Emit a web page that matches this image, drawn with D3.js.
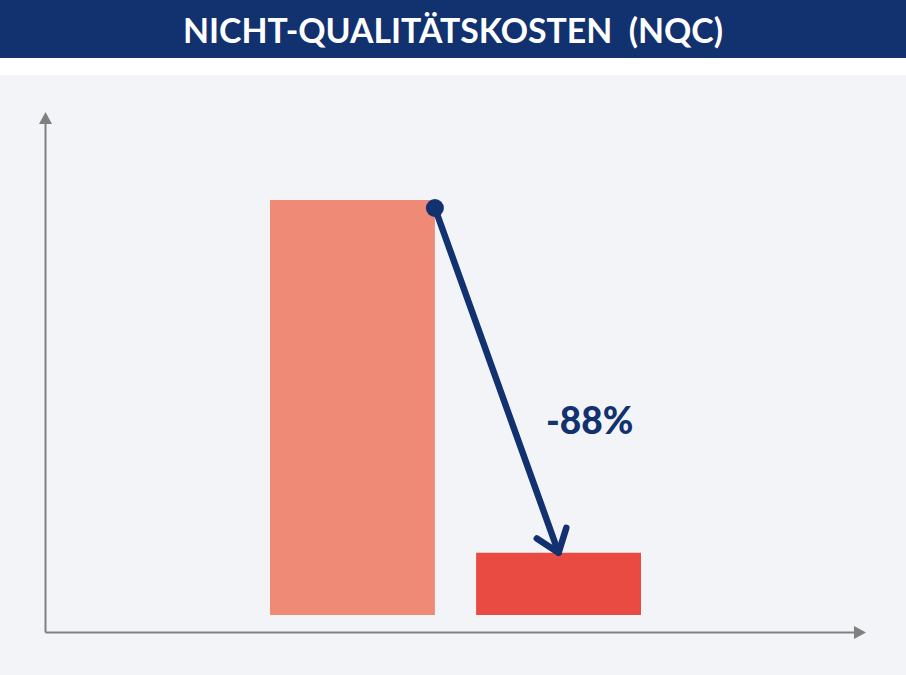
<!DOCTYPE html>
<html>
<head>
<meta charset="utf-8">
<script src="https://cdn.jsdelivr.net/npm/d3@7"></script>
<style>
  body { margin: 0; background: #ffffff; }
  svg { display: block; }
</style>
</head>
<body>
<div id="chart"></div>
<script>
const title = "NICHT-QUALITÄTSKOSTEN\u00a0\u00a0(NQC)";
const categories = ["Vorher", "Nachher"];
const values = [100, 15];
const changeLabel = "-88%";

const W = 906, H = 675;

const svg = d3.select("#chart")
    .append("svg")
    .attr("width", W)
    .attr("height", H);

// title bar
svg.append("rect")
    .attr("x", 0).attr("y", 0)
    .attr("width", W).attr("height", 58)
    .attr("fill", "#12316f");

svg.append("text")
    .attr("x", W / 2)
    .attr("y", 43)
    .attr("text-anchor", "middle")
    .attr("fill", "#ffffff")
    .style("font-family", "Lato, 'Open Sans', sans-serif")
    .style("font-weight", "700")
    .style("font-size", "35px")
    .attr("textLength", 540)
    .attr("lengthAdjust", "spacingAndGlyphs")
    .text(title);

// plot background
svg.append("rect")
    .attr("x", 0).attr("y", 75)
    .attr("width", W).attr("height", H - 75)
    .attr("fill", "#f3f4f8");

const x = d3.scaleBand()
    .domain(categories)
    .range([270, 641])
    .paddingInner(0.2)
    .paddingOuter(0);

const y = d3.scaleLinear()
    .domain([0, 100])
    .range([615, 200]);

const barColors = ["#ef8a76", "#e94b42"];

svg.selectAll(".bar")
    .data(values)
    .join("rect")
    .attr("class", "bar")
    .attr("x", (d, i) => x(categories[i]))
    .attr("y", d => y(d))
    .attr("width", x.bandwidth())
    .attr("height", d => y(0) - y(d))
    .attr("fill", (d, i) => barColors[i]);

// axes with arrow heads
const axisColor = "#808080";
const ox = 45.5, oy = 632.5;

svg.append("line")
    .attr("x1", ox).attr("y1", oy)
    .attr("x2", ox).attr("y2", 122)
    .attr("stroke", axisColor).attr("stroke-width", 2);
svg.append("line")
    .attr("x1", ox).attr("y1", oy)
    .attr("x2", 856).attr("y2", oy)
    .attr("stroke", axisColor).attr("stroke-width", 2);
svg.append("path")
    .attr("d", `M${ox - 6.5},124 L${ox},112 L${ox + 6.5},124 Z`)
    .attr("fill", axisColor);
svg.append("path")
    .attr("d", `M854,${oy - 6.5} L866,${oy} L854,${oy + 6.5} Z`)
    .attr("fill", axisColor);

// change arrow
const navy = "#12316f";
const x0 = x(categories[0]) + x.bandwidth();
const y0 = y(values[0]) + 8;
const x1 = x(categories[1]) + x.bandwidth() / 2;
const y1 = y(values[1]);

svg.append("line")
    .attr("x1", x0).attr("y1", y0)
    .attr("x2", x1).attr("y2", y1)
    .attr("stroke", navy)
    .attr("stroke-width", 6.5)
    .attr("stroke-linecap", "round");

const ang = Math.atan2(y0 - y1, x0 - x1);
const headLen = 26, spread = 37 * Math.PI / 180;
const headPath = d3.path();
headPath.moveTo(x1 + headLen * Math.cos(ang - spread), y1 + headLen * Math.sin(ang - spread));
headPath.lineTo(x1, y1);
headPath.lineTo(x1 + headLen * Math.cos(ang + spread), y1 + headLen * Math.sin(ang + spread));

svg.append("path")
    .attr("d", headPath.toString())
    .attr("fill", "none")
    .attr("stroke", navy)
    .attr("stroke-width", 6.5)
    .attr("stroke-linecap", "round")
    .attr("stroke-linejoin", "round");

svg.append("circle")
    .attr("cx", x0).attr("cy", y0)
    .attr("r", 9)
    .attr("fill", navy);

svg.append("text")
    .attr("x", 546)
    .attr("y", 434)
    .attr("fill", navy)
    .style("font-family", "Lato, 'Open Sans', sans-serif")
    .style("font-weight", "900")
    .style("font-size", "37px")
    .text(changeLabel);
</script>
</body>
</html>
